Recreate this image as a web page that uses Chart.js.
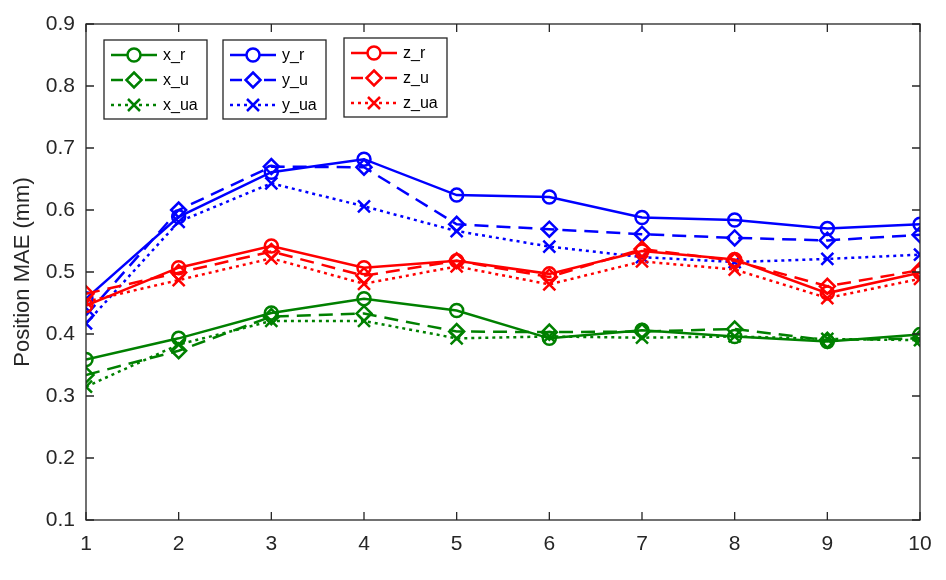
<!DOCTYPE html>
<html>
<head>
<meta charset="utf-8">
<script src="https://cdn.jsdelivr.net/npm/chart.js@4.4.1/dist/chart.umd.min.js"></script>
<style>
  html, body { margin: 0; padding: 0; background: #fff; }
  #wrap { width: 946px; height: 580px; }
</style>
</head>
<body>
<div id="wrap"><canvas id="maeChart" width="946" height="580"></canvas></div>
<script>
// data
var steps = [1, 2, 3, 4, 5, 6, 7, 8, 9, 10];
var yTicks = [0.1, 0.2, 0.3, 0.4, 0.5, 0.6, 0.7, 0.8, 0.9];

var x_r  = [0.359, 0.393, 0.434, 0.457, 0.438, 0.393, 0.406, 0.396, 0.388, 0.399];
var x_u  = [0.334, 0.373, 0.428, 0.433, 0.404, 0.403, 0.404, 0.408, 0.390, 0.393];
var x_ua = [0.315, 0.383, 0.421, 0.421, 0.393, 0.396, 0.394, 0.396, 0.392, 0.390];

var y_r  = [0.457, 0.589, 0.661, 0.682, 0.624, 0.621, 0.588, 0.584, 0.570, 0.577];
var y_u  = [0.430, 0.600, 0.670, 0.669, 0.577, 0.569, 0.561, 0.555, 0.551, 0.560];
var y_ua = [0.417, 0.581, 0.643, 0.606, 0.566, 0.541, 0.524, 0.516, 0.521, 0.528];

var z_r  = [0.446, 0.507, 0.542, 0.507, 0.518, 0.497, 0.534, 0.520, 0.466, 0.499];
var z_u  = [0.465, 0.499, 0.533, 0.494, 0.518, 0.492, 0.537, 0.518, 0.477, 0.503];
var z_ua = [0.452, 0.487, 0.522, 0.481, 0.509, 0.480, 0.517, 0.504, 0.458, 0.489];

var GREEN = '#008000', BLUE = '#0000ff', RED = '#ff0000';
var AXIS = '#262626';
var FONT = "'Liberation Sans', Arial, sans-serif";

var DASH = [14, 8];
var DOT = [3, 4];

function series(label, values, color, kind, order) {
    var style = { r: 'circle', u: 'rectRot', ua: 'crossRot' }[kind];
    var radius = { r: 6.5, u: 7.5, ua: 8.5 }[kind];
    var dash = { r: [], u: DASH, ua: DOT }[kind];
    return {
        label: label,
        data: values.map(function (v, i) { return { x: steps[i], y: v }; }),
        borderColor: color,
        backgroundColor: 'rgba(0,0,0,0)',
        borderWidth: 2.5,
        borderDash: dash,
        pointStyle: style,
        pointRadius: radius,
        pointHoverRadius: radius,
        pointBorderWidth: 2.5,
        pointBorderColor: color,
        pointBackgroundColor: 'rgba(0,0,0,0)',
        tension: 0,
        order: order,
        kind: kind
    };
}

var datasets = [
    series('x_r', x_r, GREEN, 'r', 9),
    series('x_u', x_u, GREEN, 'u', 8),
    series('x_ua', x_ua, GREEN, 'ua', 7),
    series('y_r', y_r, BLUE, 'r', 6),
    series('y_u', y_u, BLUE, 'u', 5),
    series('y_ua', y_ua, BLUE, 'ua', 4),
    series('z_r', z_r, RED, 'r', 3),
    series('z_u', z_u, RED, 'u', 2),
    series('z_ua', z_ua, RED, 'ua', 1)
];

// legend groups: three boxes of three entries
var legendBoxes = [
    { left: 104, top: 40, width: 103, height: 79, items: [0, 1, 2] },
    { left: 223, top: 40, width: 103, height: 79, items: [3, 4, 5] },
    { left: 344, top: 38, width: 103, height: 79, items: [6, 7, 8] }
];

function drawMarker(ctx, kind, x, y, color) {
    ctx.save();
    ctx.strokeStyle = color;
    ctx.lineWidth = 2.5;
    ctx.setLineDash([]);
    ctx.beginPath();
    if (kind === 'r') {
        ctx.arc(x, y, 6.5, 0, Math.PI * 2);
    } else if (kind === 'u') {
        ctx.moveTo(x, y - 7.5);
        ctx.lineTo(x + 7.5, y);
        ctx.lineTo(x, y + 7.5);
        ctx.lineTo(x - 7.5, y);
        ctx.closePath();
    } else {
        var d = 6;
        ctx.moveTo(x - d, y - d); ctx.lineTo(x + d, y + d);
        ctx.moveTo(x + d, y - d); ctx.lineTo(x - d, y + d);
    }
    ctx.fillStyle = '#fff';
    if (kind !== 'ua') ctx.fill();
    ctx.stroke();
    ctx.restore();
}

// MATLAB-like box with inward ticks, plus the grouped legends
var boxPlugin = {
    id: 'matlabBox',
    afterDraw: function (chart) {
        var ctx = chart.ctx;
        var a = chart.chartArea;
        var xs = chart.scales.x, ys = chart.scales.y;
        ctx.save();
        ctx.strokeStyle = AXIS;
        ctx.lineWidth = 1.3;
        ctx.setLineDash([]);
        ctx.strokeRect(a.left, a.top, a.right - a.left, a.bottom - a.top);
        var t = 8;
        ctx.beginPath();
        steps.forEach(function (s) {
            var px = xs.getPixelForValue(s);
            ctx.moveTo(px, a.bottom); ctx.lineTo(px, a.bottom - t);
            ctx.moveTo(px, a.top); ctx.lineTo(px, a.top + t);
        });
        yTicks.forEach(function (v) {
            var py = ys.getPixelForValue(v);
            ctx.moveTo(a.left, py); ctx.lineTo(a.left + t, py);
            ctx.moveTo(a.right, py); ctx.lineTo(a.right - t, py);
        });
        ctx.stroke();

        legendBoxes.forEach(function (box) {
            ctx.fillStyle = '#fff';
            ctx.fillRect(box.left, box.top, box.width, box.height);
            ctx.strokeStyle = AXIS;
            ctx.lineWidth = 1.3;
            ctx.strokeRect(box.left, box.top, box.width, box.height);
            box.items.forEach(function (idx, row) {
                var ds = chart.data.datasets[idx];
                var cy = box.top + 15 + row * 25;
                var x0 = box.left + 7, x1 = box.left + 53;
                ctx.save();
                ctx.strokeStyle = ds.borderColor;
                ctx.lineWidth = 2.5;
                // legend sample: dashed one shows a dash each side of the marker
                ctx.setLineDash(ds.kind === 'u' ? [12, 22] : ds.borderDash);
                ctx.beginPath();
                ctx.moveTo(x0, cy); ctx.lineTo(x1, cy);
                ctx.stroke();
                ctx.restore();
                drawMarker(ctx, ds.kind, (x0 + x1) / 2, cy, ds.borderColor);
                ctx.fillStyle = '#000';
                ctx.font = '16px ' + FONT;
                ctx.textBaseline = 'middle';
                ctx.textAlign = 'left';
                ctx.fillText(ds.label, box.left + 59, cy + 1);
            });
        });
        ctx.restore();
    }
};

var ctx1 = document.getElementById('maeChart').getContext('2d');
var maeChart = new Chart(ctx1, {
    type: 'line',
    data: { datasets: datasets },
    options: {
        responsive: false,
        animation: false,
        layout: { padding: { top: 24, right: 26, left: 0, bottom: 0 } },
        plugins: {
            legend: { display: false },
            tooltip: { enabled: false }
        },
        scales: {
            x: {
                type: 'linear',
                min: 1,
                max: 10,
                afterFit: function (scale) { scale.height = 60; },
                afterBuildTicks: function (scale) {
                    scale.ticks = steps.map(function (v) { return { value: v }; });
                },
                grid: { display: false, drawTicks: false },
                border: { display: false },
                ticks: {
                    padding: 12,
                    color: AXIS,
                    font: { family: FONT, size: 21 },
                    maxRotation: 0,
                    callback: function (v) { return String(v); }
                }
            },
            y: {
                min: 0.1,
                max: 0.9,
                afterFit: function (scale) { scale.width = 86; },
                afterBuildTicks: function (scale) {
                    scale.ticks = yTicks.map(function (v) { return { value: v }; });
                },
                grid: { display: false, drawTicks: false },
                border: { display: false },
                title: {
                    display: true,
                    text: 'Position MAE (mm)',
                    color: AXIS,
                    font: { family: FONT, size: 22 },
                    padding: { top: 10, bottom: 0 }
                },
                ticks: {
                    padding: 11,
                    color: AXIS,
                    font: { family: FONT, size: 21 },
                    callback: function (v) { return v.toFixed(1); }
                }
            }
        }
    },
    plugins: [boxPlugin]
});
</script>
</body>
</html>
